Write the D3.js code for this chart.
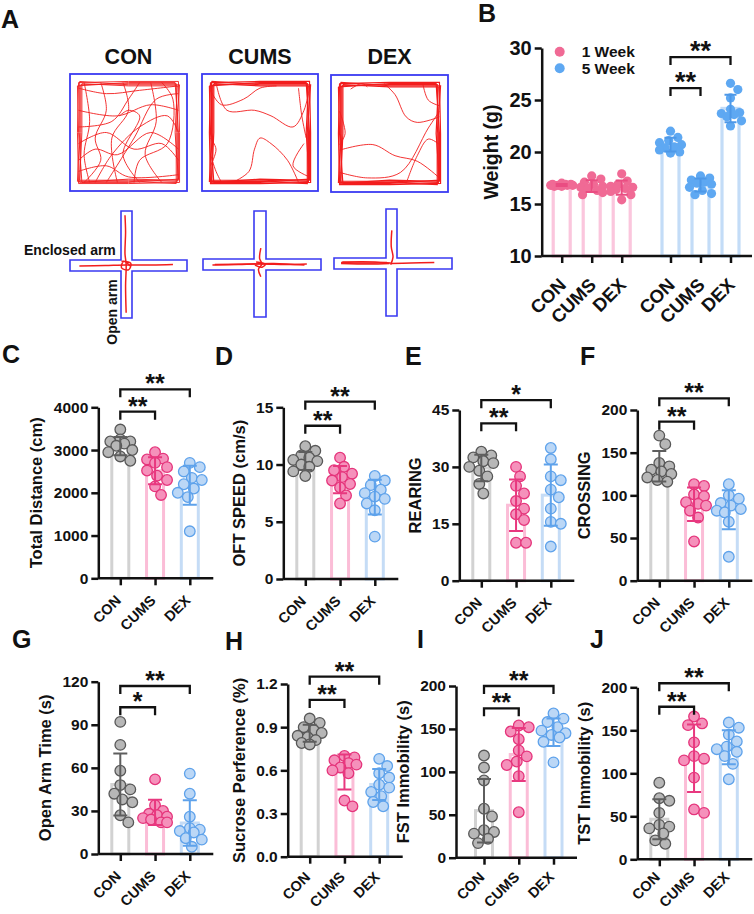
<!DOCTYPE html>
<html><head><meta charset="utf-8">
<script src="https://cdn.jsdelivr.net/npm/d3@7"></script>
<style>
body{margin:0;background:#fff}
text{font-family:Arial,"Liberation Sans",sans-serif;font-weight:bold;fill:#111}
</style>
</head><body>
<svg id="fig" width="754" height="914"></svg>
<script>
// ================= DATA =================
const groups = ["CON", "CUMS", "DEX"];
const weeks = ["1 Week", "5 Week"];

// Panel B – body weight (g)
const weight1Week = [
  [16.9,16.8,16.8,16.9,17.0,16.7,16.8,16.9,16.7,16.8],
  [17.7,17.4,17.1,16.9,16.7,16.6,16.3,16.1,15.9,16.5],
  [17.9,17.2,16.9,16.7,16.6,16.5,16.4,16.2,15.9,15.4]];
const weight5Week = [
  [22.0,21.4,21.1,20.9,20.7,20.5,20.4,20.2,20.0,19.9],
  [17.7,17.5,17.3,17.1,17.0,16.9,16.6,16.3,16.0,15.9],
  [26.6,26.0,25.2,24.1,23.8,23.7,23.6,23.4,23.0,22.5]];
const weightTicks = [10, 15, 20, 25, 30];
const weightSig = [["**", 26.15], ["**", 29.13]];

// Panels C–J (CON, CUMS, DEX)
const totalDistance = [
  [3480,3250,3200,3200,3150,3100,3000,2950,2850,2750],
  [2950,2800,2780,2700,2600,2520,2400,2300,2150,1950],
  [2700,2600,2500,2350,2300,2200,2100,2000,1900,1100]];
const distanceTicks = [0, 1000, 2000, 3000, 4000];
const distanceSig = [["**", 3897], ["**", 4421]];

const oftSpeed = [
  [11.6,11.2,10.8,10.6,10.4,10.3,10.0,9.8,9.4,9.0],
  [10.6,9.8,9.5,9.2,8.9,8.6,8.3,8.0,7.3,6.6],
  [9.0,8.6,8.2,7.8,7.5,7.2,7.0,6.6,6.0,3.7]];
const speedTicks = [0, 5, 10, 15];
const speedSig = [["**", 13.39], ["**", 15.49]];

const rearing = [
  [34,33,32.5,31.5,31,30,29,27.5,25.5,23],
  [30,27.5,25,23,21,19,17.5,16,10,10],
  [35,32,27.5,26.5,24,22,19,15.5,15,9]];
const rearingTicks = [0, 15, 30, 45];
const rearingSig = [["**", 41.5], ["*", 47.6]];

const crossing = [
  [170,160,138,134,130,128,125,121,118,116],
  [113,111,101,99,92,90,88,82,74,46],
  [113,100,96,91,88,84,82,80,69,28]];
const crossingTicks = [0, 50, 100, 150, 200];
const crossingSig = [["**", 186.3], ["**", 213.7]];

const openArmTime = [
  [92,76,58,48,45,42,38,36,27,22],
  [52,34,30,28,27,26,25,24,22,22],
  [56,42,26,18,17,16,15,11,10,5]];
const openArmTicks = [0, 30, 60, 90, 120];
const openArmSig = [["*", 102.2], ["**", 117.0]];

const sucrosePref = [
  [0.96,0.93,0.90,0.88,0.86,0.84,0.83,0.81,0.79,0.78],
  [0.70,0.69,0.67,0.65,0.64,0.62,0.60,0.58,0.39,0.35],
  [0.68,0.63,0.58,0.55,0.50,0.48,0.45,0.42,0.38,0.35]];
const sucroseTicks = [0.0, 0.3, 0.6, 0.9, 1.2];
const sucroseSig = [["**", 1.089], ["**", 1.251]];

const fstImmobility = [
  [119,105,90,57,48,32,30,28,22,17],
  [154,152,147,138,125,118,112,108,95,53],
  [168,162,158,152,148,145,143,140,135,111]];
const fstTicks = [0, 50, 100, 150, 200];
const fstSig = [["**", 174.0], ["**", 200.0]];

const tstImmobility = [
  [89,71,68,54,40,38,36,30,22,18],
  [166,158,156,136,120,117,115,95,58,54],
  [159,153,145,137,131,128,125,120,111,93]];
const tstTicks = [0, 50, 100, 150, 200];
const tstSig = [["**", 177.4], ["**", 204.7]];

// Panel A – hand-traced tracks, normalised to each arena (0..1)
const wallTraces = [
  [[0.05,0.05],[0.5,0.04],[0.95,0.04],[0.96,0.5],[0.96,0.95],[0.5,0.96],[0.05,0.96],[0.04,0.5],[0.05,0.05]],
  [[0.07,0.07],[0.5,0.06],[0.93,0.06],[0.94,0.5],[0.94,0.94],[0.5,0.93],[0.06,0.93],[0.07,0.5],[0.07,0.07]],
  [[0.04,0.08],[0.5,0.05],[0.92,0.05],[0.95,0.5],[0.95,0.92],[0.5,0.95],[0.08,0.95],[0.05,0.5],[0.04,0.08]],
  [[0.06,0.04],[0.5,0.07],[0.96,0.07],[0.93,0.5],[0.93,0.96],[0.5,0.94],[0.04,0.94],[0.06,0.5],[0.06,0.04]],
  [[0.08,0.06],[0.5,0.08],[0.94,0.08],[0.92,0.5],[0.95,0.93],[0.5,0.92],[0.06,0.95],[0.08,0.5],[0.08,0.06]]];
const conFieldTraces = [
  [[0.05,0.1],[0.3,0.15],[0.6,0.12],[0.95,0.08]],
  [[0.1,0.05],[0.15,0.4],[0.1,0.7],[0.15,0.95]],
  [[0.45,0.05],[0.5,0.3],[0.35,0.55],[0.4,0.95]],
  [[0.05,0.3],[0.4,0.35],[0.7,0.25],[0.95,0.3]],
  [[0.2,0.95],[0.35,0.7],[0.6,0.45],[0.85,0.35],[0.95,0.5]],
  [[0.05,0.6],[0.3,0.5],[0.55,0.65],[0.8,0.6],[0.95,0.75]],
  [[0.7,0.05],[0.75,0.4],[0.65,0.7],[0.8,0.95]],
  [[0.05,0.85],[0.3,0.8],[0.5,0.9],[0.95,0.88]],
  [[0.25,0.05],[0.3,0.3],[0.2,0.55],[0.25,0.75],[0.1,0.95]],
  [[0.55,0.95],[0.6,0.75],[0.85,0.6],[0.9,0.2],[0.8,0.05]],
  [[0.3,0.95],[0.55,0.55],[0.75,0.2],[0.95,0.15]],
  [[0.05,0.45],[0.35,0.4],[0.5,0.2],[0.6,0.05]],
  [[0.6,0.95],[0.45,0.7],[0.6,0.35],[0.5,0.3],[0.42,0.35]],
  [[0.95,0.65],[0.7,0.5],[0.4,0.7],[0.2,0.65],[0.05,0.75]]];
const cumsFieldTraces = [
  [[0.05,0.12],[0.15,0.25],[0.35,0.2],[0.5,0.1],[0.65,0.08]],
  [[0.1,0.05],[0.2,0.3],[0.45,0.3],[0.6,0.35],[0.8,0.45],[0.9,0.3],[0.95,0.1]],
  [[0.05,0.7],[0.1,0.85],[0.15,0.95]],
  [[0.25,0.95],[0.4,0.85],[0.45,0.65],[0.5,0.55],[0.6,0.6],[0.75,0.75],[0.85,0.95]],
  [[0.05,0.55],[0.1,0.65],[0.05,0.8]],
  [[0.9,0.6],[0.8,0.8],[0.95,0.9]],
  [[0.85,0.1],[0.88,0.35],[0.92,0.55]]];
const dexFieldTraces = [
  [[0.15,0.1],[0.25,0.05],[0.3,0.08]],
  [[0.45,0.05],[0.55,0.15],[0.65,0.35],[0.75,0.4],[0.95,0.35]],
  [[0.05,0.65],[0.35,0.6],[0.55,0.7],[0.75,0.75],[0.95,0.9]],
  [[0.05,0.85],[0.3,0.9],[0.6,0.85],[0.85,0.45],[0.95,0.3]],
  [[0.65,0.95],[0.75,0.7],[0.85,0.55],[0.95,0.6]],
  [[0.8,0.05],[0.85,0.2],[0.95,0.25]],
  [[0.05,0.3],[0.1,0.5],[0.05,0.6]]];
const conMazeTraces = [
  [[0.47,0.04],[0.475,0.2],[0.47,0.4],[0.48,0.5],[0.475,0.7],[0.48,0.95]],
  [[0.08,0.515],[0.3,0.51],[0.48,0.505],[0.7,0.505],[0.88,0.5]],
  [[0.44,0.47],[0.52,0.49],[0.5,0.55],[0.44,0.53],[0.46,0.47],[0.52,0.52]]];
const cumsMazeTraces = [
  [[0.08,0.51],[0.3,0.505],[0.5,0.5],[0.7,0.505],[0.88,0.5]],
  [[0.1,0.505],[0.4,0.5],[0.6,0.495],[0.86,0.51]],
  [[0.49,0.35],[0.48,0.45],[0.5,0.5],[0.47,0.55],[0.49,0.62]],
  [[0.45,0.48],[0.53,0.5],[0.5,0.53],[0.44,0.51]]];
const dexMazeTraces = [
  [[0.06,0.5],[0.25,0.505],[0.45,0.5]],
  [[0.06,0.51],[0.3,0.515],[0.47,0.51]],
  [[0.07,0.495],[0.35,0.495],[0.48,0.505]],
  [[0.48,0.51],[0.65,0.505],[0.85,0.5]],
  [[0.49,0.2],[0.485,0.35],[0.5,0.45],[0.48,0.52]]];

// ================= STYLE / LAYOUT =================
const pal = [
  {bar:"#d2d2d2", fill:"#b7b7b7", stroke:"#585858", err:"#5e5e5e"},
  {bar:"#fbbdd7", fill:"#f591bb", stroke:"#e5347b", err:"#e8387f"},
  {bar:"#c5dcf6", fill:"#bbd7f6", stroke:"#5ea2eb", err:"#5ea2eb"}];
const weekPal = [{bar:"#fbc6dd", dot:"#f06a95", err:"#ea4d82"}, {bar:"#c3dcf7", dot:"#5ea8f2", err:"#4d98e8"}];

const svg = d3.select("#fig");
svg.append("rect").attr("width",754).attr("height",914).attr("fill","#fff");

function letter(t, x, y){ svg.append("text").attr("x",x).attr("y",y).attr("font-size",25).text(t); }

function swarm(vals, y, cx, r, maxOff){
  const order = vals.map((v,i)=>({v,i,py:y(v)})).sort((a,b)=>b.v-a.v);
  const placed = [], out = new Array(vals.length);
  for (const o of order){
    const cands=[0]; for(let k=1;k<=6;k++){cands.push(k*maxOff/6, -k*maxOff/6);}
    let best=cx, bestScore=-Infinity;
    for (const c of cands){
      const px = cx + c;
      let minD = Infinity;
      for (const p of placed) minD = Math.min(minD, Math.hypot(px-p.x, o.py-p.y));
      if (minD >= 1.85*r){ best = px; break; }
      if (minD > bestScore){ bestScore = minD; best = px; }
    }
    placed.push({x:best,y:o.py}); out[o.i] = {x:best, y:o.py};
  }
  return out;
}

function bracket(g, xa, xb, yy, label, fs){
  g.append("path").attr("d",`M${xa},${yy+8}V${yy}H${xb}V${yy+8}`)
    .attr("fill","none").attr("stroke","#111").attr("stroke-width",2.3);
  g.append("text").attr("x",(xa+xb)/2).attr("y",yy+fs*0.12).attr("text-anchor","middle")
    .attr("font-size",fs).text(label);
}

function styleAxis(sel, fs){
  sel.selectAll("path,line").attr("stroke","#111").attr("stroke-width",2.5);
  sel.selectAll("text").attr("font-size",fs).attr("font-family","Arial, 'Liberation Sans', sans-serif").attr("font-weight","bold").attr("fill","#111");
}

// ================= PANEL A =================
letter("A", 1, 28);
const fieldBoxes = [
  {name:"CON", x0:70, y0:74, x1:187, y1:191, traces:conFieldTraces},
  {name:"CUMS", x0:202, y0:74, x1:318, y1:191, traces:cumsFieldTraces},
  {name:"DEX", x0:331, y0:75, x1:448, y1:192, traces:dexFieldTraces}];
const mazes = [
  {vx0:121, vx1:132, vy0:211, vy1:318, hx0:70, hx1:187, hy0:260, hy1:271, traces:conMazeTraces},
  {vx0:254, vx1:266, vy0:211, vy1:317, hx0:203, hx1:321, hy0:259, hy1:270, traces:cumsMazeTraces},
  {vx0:386, vx1:397, vy0:209, vy1:316, hx0:334, hx1:452, hy0:258, hy1:269, traces:dexMazeTraces}];
const gA = svg.append("g");
fieldBoxes.forEach((b,i)=>{
  gA.append("text").attr("x",(b.x0+b.x1)/2).attr("y",64).attr("text-anchor","middle").attr("font-size",21.5).text(b.name);
  const xs = d3.scaleLinear().domain([0,1]).range([b.x0+3, b.x1-3]);
  const ys = d3.scaleLinear().domain([0,1]).range([b.y0+3, b.y1-3]);
  const line = d3.line().x(d=>xs(d[0])).y(d=>ys(d[1])).curve(d3.curveCatmullRom);
  const wl = d3.line().x(d=>xs(d[0])).y(d=>ys(d[1]));
  wallTraces.forEach(t=>gA.append("path").attr("d",wl(t)).attr("fill","none").attr("stroke","#f21d1d").attr("stroke-width", i===0?0.9:1.2));
  b.traces.forEach(t=>gA.append("path").attr("d",line(t)).attr("fill","none").attr("stroke","#f21d1d").attr("stroke-width",0.9));
  gA.append("rect").attr("x",b.x0).attr("y",b.y0).attr("width",b.x1-b.x0).attr("height",b.y1-b.y0)
    .attr("fill","none").attr("stroke","#3a3af2").attr("stroke-width",1.8);
});
mazes.forEach(m=>{
  const d = `M${m.vx0},${m.vy0}H${m.vx1}V${m.hy0}H${m.hx1}V${m.hy1}H${m.vx1}V${m.vy1}H${m.vx0}V${m.hy1}H${m.hx0}V${m.hy0}H${m.vx0}Z`;
  gA.append("path").attr("d",d).attr("fill","none").attr("stroke","#3a3af2").attr("stroke-width",1.6);
  const xs = d3.scaleLinear().domain([0,1]).range([m.hx0, m.hx1]);
  const ys = d3.scaleLinear().domain([0,1]).range([m.vy0, m.vy1]);
  const line = d3.line().x(d=>xs(d[0])).y(d=>ys(d[1])).curve(d3.curveCatmullRom);
  m.traces.forEach(t=>gA.append("path").attr("d",line(t)).attr("fill","none").attr("stroke","#f21d1d").attr("stroke-width",1.5));
});
gA.append("text").attr("x",24).attr("y",255).attr("font-size",14).text("Enclosed arm");
gA.append("text").attr("transform","translate(117,312) rotate(-90)").attr("text-anchor","middle").attr("font-size",14).text("Open arm");

// ================= PANEL B =================
letter("B", 478, 22);
(function(){
  const x0 = 541.7, y0 = 256, yTop = 48, xEnd = 752;
  const g = svg.append("g");
  const y = d3.scaleLinear().domain([weightTicks[0], weightTicks[weightTicks.length-1]]).range([y0, yTop]);
  const wx = d3.scalePoint().domain(weeks).range([591.7, 700.5]);
  const cx = d3.scalePoint().domain(groups).range([-30, 30]);
  const keys = [], pos = [];
  const sets = [weight1Week, weight5Week];
  weeks.forEach((w,wi)=>groups.forEach((c,ci)=>{ keys.push(w+"|"+c); pos.push(wx(w)+cx(c)); }));
  const xs = d3.scaleOrdinal().domain(keys).range(pos);
  weeks.forEach((w,wi)=>groups.forEach((c,ci)=>{
    const vals = sets[wi][ci], m = d3.mean(vals), sd = d3.deviation(vals), px = xs(w+"|"+c);
    g.append("rect").attr("x",px-8.5).attr("width",17).attr("y",y(m)).attr("height",y0-y(m))
      .attr("fill","none").attr("stroke",weekPal[wi].bar).attr("stroke-width",3.2);
    const pts = swarm(vals, y, px, 4.6, 11);
    g.selectAll(null).data(pts).enter().append("circle").attr("cx",d=>d.x).attr("cy",d=>d.y).attr("r",4.6).attr("fill",weekPal[wi].dot);
    g.append("path").attr("d",`M${px-6},${y(m+sd)}H${px+6}M${px},${y(m+sd)}V${y(m-sd)}M${px-6},${y(m-sd)}H${px+6}`)
      .attr("stroke",weekPal[wi].err).attr("stroke-width",2).attr("fill","none");
  }));
  // axes
  const ya = g.append("g").attr("transform",`translate(${x0},0)`).call(d3.axisLeft(y).tickValues(weightTicks).tickSize(7).tickSizeOuter(0).tickPadding(3));
  styleAxis(ya, 20);
  g.append("line").attr("x1",x0).attr("x2",xEnd).attr("y1",y0).attr("y2",y0).attr("stroke","#111").attr("stroke-width",2.5);
  const xa = g.append("g").attr("transform",`translate(0,${y0})`).call(d3.axisBottom(xs).tickSize(7).tickFormat(k=>k.split("|")[1]));
  xa.select(".domain").remove();
  styleAxis(xa, 18.5);
  xa.selectAll("text").attr("x",0).attr("y",0).attr("dy",0).attr("text-anchor","end").attr("transform","translate(5,30) rotate(-45)");
  // title
  const tb = ya.node().getBBox();
  g.append("text").attr("transform",`translate(${x0 + tb.x - 11},${(y0+yTop)/2}) rotate(-90)`).attr("text-anchor","middle").attr("font-size",19.5).text("Weight (g)");
  // legend
  weeks.forEach((w,i)=>{
    g.append("circle").attr("cx",x0+18).attr("cy",51.7+i*16.5).attr("r",5).attr("fill",weekPal[i].dot);
    g.append("text").attr("x",x0+40).attr("y",57.3+i*16.5).attr("font-size",15.5).text(w);
  });
  // significance (5 Week group)
  weightSig.forEach((s,i)=>{
    bracket(g, xs("5 Week|CON"), xs(i===0?"5 Week|CUMS":"5 Week|DEX"), y(s[1]), s[0], 27);
  });
})();

// ================= PANELS C–J =================
const panels = [
  {id:"C", data:totalDistance, ticks:distanceTicks, sig:distanceSig, title:"Total Distance (cm)", x0:98.3, y0:578.3, yTop:407.3, lx:2, ly:363},
  {id:"D", data:oftSpeed, ticks:speedTicks, sig:speedSig, title:"OFT SPEED (cm/s)", x0:283.3, y0:579, yTop:407.3, lx:215, ly:365},
  {id:"E", data:rearing, ticks:rearingTicks, sig:rearingSig, title:"REARING", x0:459.3, y0:580.7, yTop:410, lx:405, ly:365},
  {id:"F", data:crossing, ticks:crossingTicks, sig:crossingSig, title:"CROSSING", x0:637.3, y0:580.7, yTop:410, lx:580, ly:365},
  {id:"G", data:openArmTime, ticks:openArmTicks, sig:openArmSig, title:"Open Arm Time (s)", x0:98.3, y0:854, yTop:681.7, lx:12, ly:648},
  {id:"H", data:sucrosePref, ticks:sucroseTicks, sig:sucroseSig, title:"Sucrose Perference (%)", x0:287.7, y0:856.7, yTop:684, lx:225, ly:650, fmt:".1f"},
  {id:"I", data:fstImmobility, ticks:fstTicks, sig:fstSig, title:"FST Immobility (s)", x0:456, y0:857.7, yTop:686, lx:417, ly:648, off:28},
  {id:"J", data:tstImmobility, ticks:tstTicks, sig:tstSig, title:"TST Immobility (s)", x0:637.3, y0:859.3, yTop:687.3, lx:590, ly:648}];

panels.forEach(p=>{
  letter(p.id, p.lx, p.ly);
  const g = svg.append("g");
  const y = d3.scaleLinear().domain([p.ticks[0], p.ticks[p.ticks.length-1]]).range([p.y0, p.yTop]);
  const off = p.off || 22;
  const x = d3.scalePoint().domain(groups).range([p.x0+off, p.x0+off+69.5]);
  const stats = groups.map((c,i)=>({m:d3.mean(p.data[i]), sd:d3.deviation(p.data[i])}));
  groups.forEach((c,i)=>{
    const m = stats[i].m;
    g.append("rect").attr("x",x(c)-8.5).attr("width",17).attr("y",y(m)).attr("height",p.y0-y(m))
      .attr("fill","none").attr("stroke",pal[i].bar).attr("stroke-width",3);
  });
  groups.forEach((c,i)=>{
    const pts = swarm(p.data[i], y, x(c), 5.3, 12);
    g.selectAll(null).data(pts).enter().append("circle").attr("cx",d=>d.x).attr("cy",d=>d.y).attr("r",5.3)
      .attr("fill",pal[i].fill).attr("stroke",pal[i].stroke).attr("stroke-width",1.3);
  });
  groups.forEach((c,i)=>{
    const {m,sd} = stats[i], px = x(c);
    g.append("path").attr("d",`M${px-7},${y(m+sd)}H${px+7}M${px},${y(m+sd)}V${y(m-sd)}M${px-7},${y(m-sd)}H${px+7}`)
      .attr("stroke",pal[i].err).attr("stroke-width",2).attr("fill","none");
  });
  const ax = d3.axisLeft(y).tickValues(p.ticks).tickSize(7).tickSizeOuter(0).tickPadding(3)
    .tickFormat(d3.format(p.fmt || "d"));
  const ya = g.append("g").attr("transform",`translate(${p.x0},0)`).call(ax);
  styleAxis(ya, 15.5);
  g.append("line").attr("x1",p.x0).attr("x2",p.x0+off+93).attr("y1",p.y0).attr("y2",p.y0).attr("stroke","#111").attr("stroke-width",2.5);
  const xa = g.append("g").attr("transform",`translate(0,${p.y0})`).call(d3.axisBottom(x).tickSize(7));
  xa.select(".domain").remove();
  styleAxis(xa, 14.5);
  const ldy = Math.min(23, 878 - p.y0);
  xa.selectAll("text").attr("x",0).attr("y",0).attr("dy",0).attr("text-anchor","end").attr("transform",`translate(1,${ldy}) rotate(-45)`);
  const tb = ya.node().getBBox();
  g.append("text").attr("transform",`translate(${p.x0 + tb.x - 11.5},${(p.y0+p.yTop)/2}) rotate(-90)`).attr("text-anchor","middle").attr("font-size",16.5).text(p.title);
  p.sig.forEach((s,i)=>{
    bracket(g, x("CON"), x(i===0?"CUMS":"DEX"), y(s[1]), s[0], 25);
  });
});
</script>
</body></html>
